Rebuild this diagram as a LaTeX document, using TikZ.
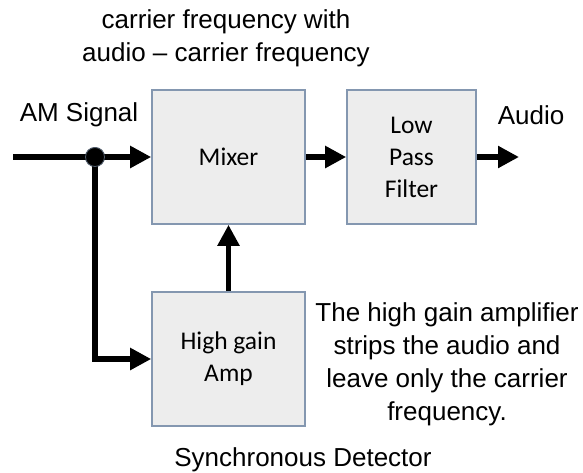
\documentclass[tikz,border=0pt]{standalone}
\usepackage{fontspec}
\setmainfont{Liberation Sans}
\newfontfamily\calibri{Carlito}
\usetikzlibrary{arrows.meta}
\definecolor{boxfill}{HTML}{EDEDED}
\definecolor{boxedge}{HTML}{8497B0}
\begin{document}
\begin{tikzpicture}[x=1pt,y=-1pt,
  block/.style={draw=boxedge,line width=1.6pt,fill=boxfill,inner sep=0pt,align=center,
    font=\calibri\fontsize{25.5}{32}\selectfont},
  sig/.style={line width=5.5pt,-{Triangle[length=21pt,width=21pt]}},
  lbl/.style={inner sep=0pt,align=center,font=\fontsize{26}{33}\selectfont}]
\useasboundingbox (0,0) rectangle (583,472);
\node[block,minimum width=153pt,minimum height=134pt] (mixer) at (228.5,157) {Mixer};
\node[block,minimum width=129pt,minimum height=134pt] (lpf) at (411.5,157) {Low\\Pass\\Filter};
\node[block,minimum width=153pt,minimum height=134pt] (amp) at (228.5,359) {High gain\\Amp};
\coordinate (in) at (13,157);
\coordinate (out) at (519,157);
\node[circle,fill=black,draw=boxedge!60!black,line width=0.8pt,minimum size=19pt,inner sep=0pt] (dot) at (95,157) {};
\draw[sig] (in) -- (mixer.west);
\draw[sig] (dot.center) |- (amp.west);
\draw[sig] (amp.north) -- (mixer.south);
\draw[sig] (mixer.east) -- (lpf.west);
\draw[sig] (lpf.east) -- (out);
\node[circle,fill=black,draw=boxedge!60!black,line width=0.8pt,minimum size=19pt,inner sep=0pt] at (dot) {};
\node[lbl] (top) at (226,38) {carrier frequency with\\audio -- carrier frequency};
\node[lbl] (am) at (79,115) {AM Signal};
\node[lbl] (audio) at (531,115) {Audio};
\node[lbl] (note) at (447,364) {The high gain amplifier\\strips the audio and\\leave only the carrier\\frequency.};
\node[lbl] (sync) at (303,460) {Synchronous Detector};
\end{tikzpicture}
\end{document}
